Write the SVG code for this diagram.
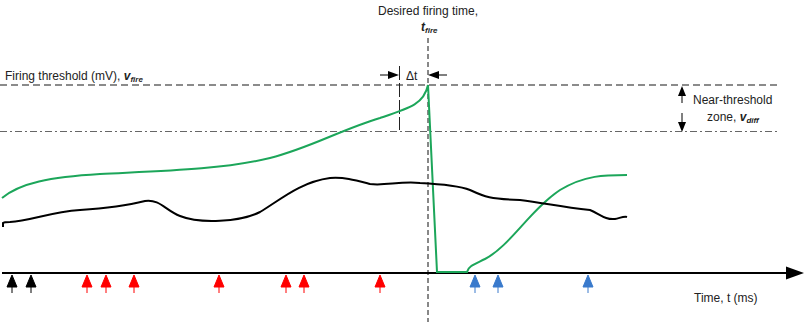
<svg xmlns="http://www.w3.org/2000/svg" width="806" height="322" viewBox="0 0 806 322">
<defs>
<style>
text{font-family:"Liberation Sans",Arial,sans-serif;font-size:12px;fill:#222}
.b{font-weight:bold;font-style:italic}
.sub{font-size:8px}
.thr{stroke:#666;stroke-width:1.5;fill:none;stroke-dasharray:7,4}
.dd{stroke:#666;stroke-width:1.2;fill:none;stroke-dasharray:7,3,2,3}
.vd{stroke:#111;stroke-width:1;fill:none;stroke-dasharray:5,3}
.sp{stroke-width:1}
</style>
<g id="tri-black"><path d="M-5,13 L0,1 L5,13 Z M0,13 V19" fill="#000" stroke="#000" stroke-width="1"/></g>
</defs>
<rect width="806" height="322" fill="#fff"/>
<g id="connectors">
<line class="thr" x1="0" y1="85" x2="780" y2="85"/>
<line class="dd" x1="0" y1="131.5" x2="780" y2="131.5"/>
<line class="vd" x1="428" y1="38" x2="428" y2="322"/>
<line x1="399.5" y1="66" x2="399.5" y2="130" stroke="#222" stroke-width="1" stroke-dasharray="14,3"/>
<line x1="380" y1="75" x2="392" y2="75" stroke="#000" stroke-width="1"/>
<path d="M388,71 L399,75 L388,79 Z" fill="#000"/>
<line x1="435" y1="75" x2="447" y2="75" stroke="#000" stroke-width="1"/>
<path d="M439,71 L428,75 L439,79 Z" fill="#000"/>
<line x1="682" y1="92" x2="682" y2="103" stroke="#000" stroke-width="1"/>
<path d="M678,96 L682,86 L686,96 Z" fill="#000"/>
<line x1="682" y1="113" x2="682" y2="124" stroke="#000" stroke-width="1"/>
<path d="M678,122 L682,132 L686,122 Z" fill="#000"/>
<line x1="2" y1="273" x2="790" y2="273" stroke="#000" stroke-width="2"/>
<path d="M786,266.5 L804,273 L786,279.5 Z" fill="#000"/>
</g>
<g id="green-curve">
<path d="M2,198 C20,183 50,177 100,174 C160,171 220,170 270,158 C310,148 340,130 380,118 C410,108 424,104 428,85 L437,272 L467,272 C468,266 475,264 485,259 C510,246 530,210 560,190 C585,175 605,175 627,175" fill="none" stroke="#1ca65a" stroke-width="2"/>
</g>
<g id="black-curve">
<path d="M3,227 L3,223 Q4,222 10,222 C30,221 50,212 80,210 C110,208 125,206 145,201 C160,199 165,210 180,216 C200,224 240,222 260,212 C280,200 300,182 330,178 C345,177 355,180 370,184 C385,186 400,181 420,183 C440,184 460,186 470,190 C485,197 490,199 520,200 C545,203 560,207 590,210 C600,214 605,220 615,219 C620,218 624,216 627,217" fill="none" stroke="#000" stroke-width="2"/>
</g>
<g id="spikes-input">
<use href="#tri-black" x="12" y="274"/>
<use href="#tri-black" x="31" y="274"/>
</g>
<g id="spikes-red" fill="#f00" stroke="#f00">
<path d="M82,287 L87,275 L92,287 Z M87,287 V293 M101,287 L106,275 L111,287 Z M106,287 V293 M129,287 L134,275 L139,287 Z M134,287 V293 M214,287 L219,275 L224,287 Z M219,287 V293 M281,287 L286,275 L291,287 Z M286,287 V293 M299,287 L304,275 L309,287 Z M304,287 V293 M375,287 L380,275 L385,287 Z M380,287 V293"/>
</g>
<g id="spikes-blue" fill="#3a7acc" stroke="#3a7acc">
<path d="M470,287 L475,275 L480,287 Z M475,287 V293 M493,287 L498,275 L503,287 Z M498,287 V293 M583,287 L588,275 L593,287 Z M588,287 V293"/>
</g>
<g id="labels">
<text x="428" y="15" text-anchor="middle">Desired firing time,</text>
<text x="421" y="31" class="b">t<tspan class="sub" dy="2">fire</tspan></text>
<text x="406" y="80">Δt</text>
<text x="5" y="80">Firing threshold (mV), <tspan class="b">v</tspan><tspan class="b sub" dy="2">fire</tspan></text>
<text x="693" y="104">Near-threshold</text>
<text x="707" y="121">zone, <tspan class="b">v</tspan><tspan class="b sub" dy="2">diff</tspan></text>
<text x="694" y="302">Time, t (ms)</text>
</g>
</svg>
